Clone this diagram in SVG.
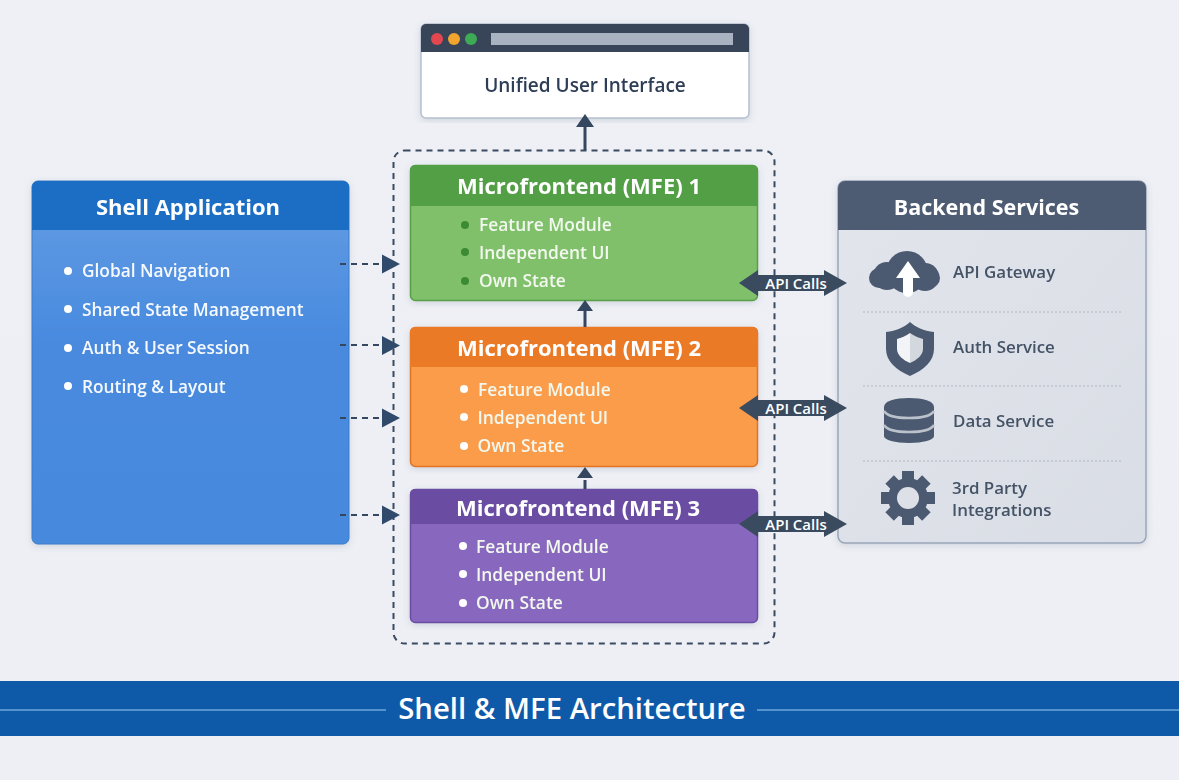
<svg xmlns="http://www.w3.org/2000/svg" width="1179" height="780" viewBox="0 0 1179 780">
<style>
text{font-family:"Open Sans","Noto Sans","Liberation Sans",sans-serif;font-weight:600}
.hd{fill:#fff;font-size:22px;text-anchor:middle;font-weight:700}
.sh{fill:#fff;font-size:17.3px;fill-opacity:.95}
.it{fill:#f2f8ee;font-size:17.4px}
.be{fill:#445266;font-size:16.9px}
.api{fill:#fff;font-size:15px;text-anchor:middle}
.link{stroke:#34475f;stroke-width:3;fill:none}
.dash{stroke-width:2.2;stroke-dasharray:6 5}
.head{fill:#2f4a6b}
.sep{stroke:#b0b7c3;stroke-width:1;stroke-dasharray:2 2}
.ic{fill:#4b5a70}
.apiarrow{fill:#3a4a5f}
</style>
<defs>
<linearGradient id="bg" x1="0" y1="0" x2="0" y2="1"><stop offset="0" stop-color="#eef0f5"/><stop offset="1" stop-color="#edeff4"/></linearGradient>
<linearGradient id="shellBody" x1="0" y1="0" x2="0" y2="1"><stop offset="0" stop-color="#649de3"/><stop offset=".45" stop-color="#488adf"/><stop offset="1" stop-color="#468add"/></linearGradient>
<linearGradient id="beBody" x1="0" y1="0" x2="1" y2="1"><stop offset="0" stop-color="#e2e5ec"/><stop offset="1" stop-color="#d9dde5"/></linearGradient>
<filter id="sd" x="-5%" y="-5%" width="110%" height="110%"><feDropShadow dx="0" dy="2" stdDeviation="3" flood-color="#5a6a80" flood-opacity=".2"/></filter>
</defs>
<rect width="1179" height="780" fill="url(#bg)"/>

<g id="banner">
<rect x="0" y="681" width="1179" height="55" fill="#0f5aa8"/>
<path d="M0 710H386M757 710H1179" stroke="#6ea6dc" stroke-width="1.6"/>
<text x="572" y="719" fill="#fff" font-size="29.300" text-anchor="middle">Shell &amp; MFE Architecture</text>
</g>

<g id="ui-window" filter="url(#sd)">
<rect x="421" y="24" width="328" height="94" rx="5" fill="#fff" stroke="#b5c0d0" stroke-width="1.5"/>
<path d="M421 52V29a5 5 0 0 1 5-5H744a5 5 0 0 1 5 5V52Z" fill="#384559"/>
<circle cx="437" cy="39" r="6" fill="#e2474f"/>
<circle cx="454" cy="39" r="6" fill="#f2a52e"/>
<circle cx="471" cy="39" r="6" fill="#3daa55"/>
<rect x="491" y="33" width="242" height="12" fill="#a9b2c0"/>
<text x="585" y="92" fill="#2f3e56" font-size="19" text-anchor="middle">Unified User Interface</text>
</g>

<rect id="mfe-container" x="393.500" y="150.500" width="381" height="493" rx="11" fill="none" stroke="#3a4a60" stroke-width="2" stroke-dasharray="6 5"/>

<g id="shell" filter="url(#sd)">
<rect x="32" y="181" width="317" height="363" rx="6" fill="url(#shellBody)" stroke="#3a7cc9" stroke-width="1"/>
<path d="M32 230V187a6 6 0 0 1 6-6H343a6 6 0 0 1 6 6V230Z" fill="#1b6ec5"/>
<text class="hd" x="188" y="215">Shell Application</text>
<circle cx="68" cy="271" r="4" fill="#fff"/><text class="sh" x="82" y="277">Global Navigation</text>
<circle cx="68" cy="309" r="4" fill="#fff"/><text class="sh" x="82" y="316">Shared State Management</text>
<circle cx="68" cy="348" r="4" fill="#fff"/><text class="sh" x="82" y="354">Auth &amp; User Session</text>
<circle cx="68" cy="386" r="4" fill="#fff"/><text class="sh" x="82" y="393">Routing &amp; Layout</text>
</g>

<g id="mfe1" filter="url(#sd)">
<rect x="410.500" y="165.500" width="347" height="135" rx="5" fill="#80c06b" stroke="#57a047" stroke-width="1.500"/>
<path d="M410 206V170a5 5 0 0 1 5-5H753a5 5 0 0 1 5 5V206Z" fill="#529f45"/>
<text class="hd" x="579" y="194">Microfrontend (MFE) 1</text>
<circle cx="465" cy="225" r="4" fill="#3e8a35"/><text class="it" x="479" y="230.500">Feature Module</text>
<circle cx="465" cy="252" r="4" fill="#3e8a35"/><text class="it" x="479" y="258.500">Independent UI</text>
<circle cx="465" cy="281" r="4" fill="#3e8a35"/><text class="it" x="479" y="287">Own State</text>
</g>

<g id="mfe2" filter="url(#sd)">
<rect x="410.500" y="327.500" width="347" height="139" rx="5" fill="#fb9c4b" stroke="#dd7424" stroke-width="1.500"/>
<path d="M410 367V332a5 5 0 0 1 5-5H753a5 5 0 0 1 5 5V367Z" fill="#ea7a28"/>
<text class="hd" x="579" y="356">Microfrontend (MFE) 2</text>
<circle cx="464" cy="389" r="4" fill="#fff"/><text class="it" x="478" y="395.500">Feature Module</text>
<circle cx="464" cy="417" r="4" fill="#fff"/><text class="it" x="477.500" y="423.500">Independent UI</text>
<circle cx="464" cy="446" r="4" fill="#fff"/><text class="it" x="477.500" y="452">Own State</text>
</g>

<g id="mfe3" filter="url(#sd)">
<rect x="410.500" y="489.500" width="347" height="133" rx="5" fill="#8867bf" stroke="#6a4ca3" stroke-width="1.500"/>
<path d="M410 524V494a5 5 0 0 1 5-5H753a5 5 0 0 1 5 5V524Z" fill="#6a4ea3"/>
<text class="hd" x="578" y="516">Microfrontend (MFE) 3</text>
<circle cx="463" cy="546" r="4" fill="#fff"/><text class="it" x="476" y="552.500">Feature Module</text>
<circle cx="463" cy="574" r="4" fill="#fff"/><text class="it" x="476" y="580.500">Independent UI</text>
<circle cx="463" cy="603" r="4" fill="#fff"/><text class="it" x="476" y="609">Own State</text>
</g>

<g id="backend" filter="url(#sd)">
<rect x="838" y="181" width="308" height="362" rx="7" fill="url(#beBody)" stroke="#9aa7bb" stroke-width="1.500"/>
<path d="M838 230V188a7 7 0 0 1 7-7H1139a7 7 0 0 1 7 7V230Z" fill="#4d5b72"/>
<text class="hd" x="986.500" y="215" style="font-size:21.500px">Backend Services</text>
<path class="sep" d="M863 312H1122M863 386H1122M863 461H1122"/>
<g id="icon-cloud">
<rect class="ic" x="869" y="268" width="71" height="20" rx="10"/>
<circle class="ic" cx="907" cy="272" r="21"/>
<circle class="ic" cx="887" cy="276" r="14"/>
<circle class="ic" cx="925" cy="277" r="14"/>
<path d="M908 261l-12 17h7v14a5 5 0 0 0 10 0v-14h7Z" fill="#fff"/>
</g>
<g id="icon-shield">
<path class="ic" d="M910 322c5 5 14 9 24 10v17c0 12-10 21-24 27-14-6-24-15-24-27v-17c10-1 19-5 24-10Z"/>
<path d="M910 333c-4 3-9 5-13 6v10c0 6 6 11 13 14Z" fill="#f3f4f7"/>
<path d="M910 333c4 3 9 5 13 6v10c0 6-6 11-13 14Z" fill="#d3d7de"/>
</g>
<g id="icon-db">
<path class="ic" d="M884 407c0-6 11-9 25-9s25 3 25 9v29c0 4-11 7-25 7s-25-3-25-7Z"/>
<path d="M884 411c3 5 13 7 25 7s22-2 25-7M884 425c3 5 13 7 25 7s22-2 25-7" fill="none" stroke="#bcc2cc" stroke-width="2.500"/>
</g>
<g id="icon-gear" fill="#4b5a70">
<circle cx="908" cy="498" r="20"/>
<rect x="902" y="471" width="12" height="54"/>
<rect x="881" y="492" width="54" height="12"/>
<g transform="rotate(45 908 498)"><rect x="902" y="472" width="12" height="52"/><rect x="882" y="492" width="52" height="12"/></g>
<circle cx="908" cy="498" r="11" fill="#dde0e7"/>
</g>
<text class="be" x="953" y="278">API Gateway</text>
<text class="be" x="953" y="353">Auth Service</text>
<text class="be" x="953" y="427">Data Service</text>
<text class="be" x="952" y="494">3rd Party</text>
<text class="be" x="952" y="516">Integrations</text>
</g>

<g id="connectors">
<path class="link" d="M585 150V125M585 327V310M585 489V480"/>
<path fill="#34475f" d="M585 114l9 13h-18ZM585 300l8 11h-16ZM585 467l8 11h-16Z"/>
<path class="link dash" d="M340 264H382M340 345H382M340 418H382M340 515H382"/>
<path class="head" d="M400 264l-18-9.500v19ZM400 345.500l-18-9.500v19ZM400 418l-18-9.500v19ZM400 515l-18-9.500v19Z"/>
<g id="api-1"><path class="apiarrow" d="M739 283l19-13v5h66v-5l23 13-23 13v-5h-66v5Z"/><text class="api" x="796" y="289">API Calls</text></g>
<g id="api-2"><path class="apiarrow" d="M739 408l19-13v5h66v-5l23 13-23 13v-5h-66v5Z"/><text class="api" x="796" y="414">API Calls</text></g>
<g id="api-3"><path class="apiarrow" d="M739 524l19-13v5h66v-5l23 13-23 13v-5h-66v5Z"/><text class="api" x="796" y="530">API Calls</text></g>
</g>
</svg>
